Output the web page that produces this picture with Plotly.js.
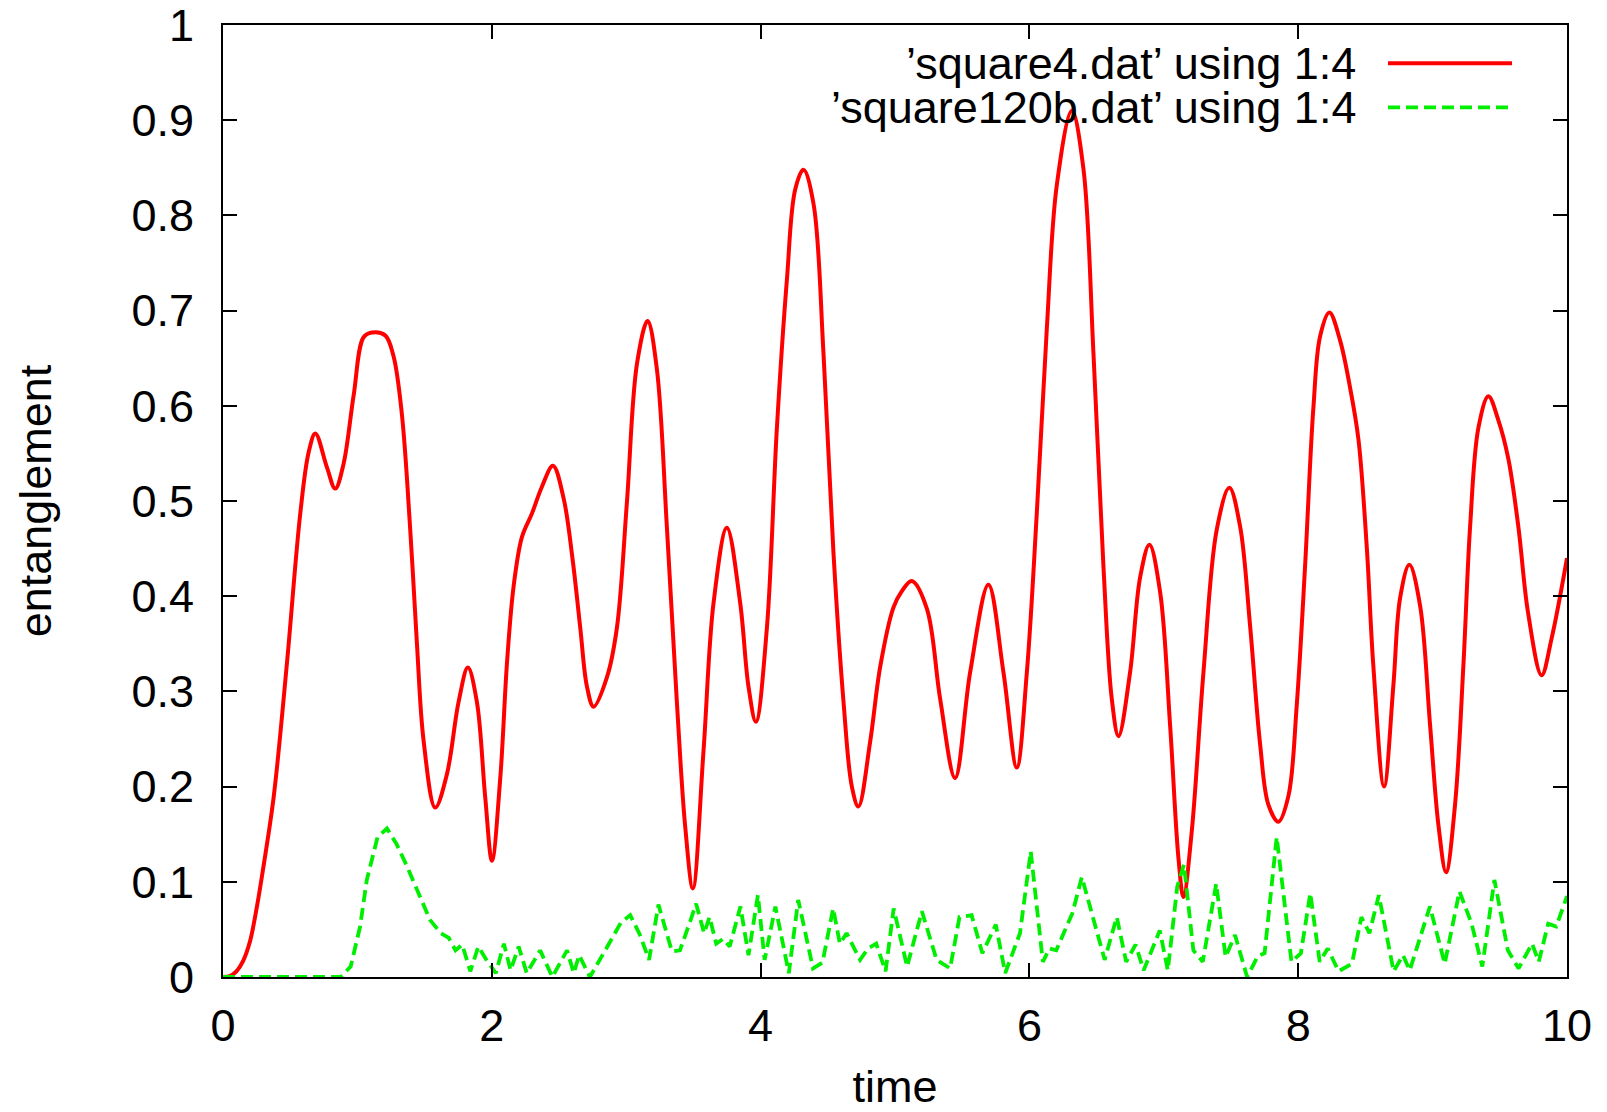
<!DOCTYPE html>
<html>
<head>
<meta charset="utf-8">
<script src="https://cdn.plot.ly/plotly-3.0.1.min.js"></script>
<style>
  html, body { margin: 0; padding: 0; background: #ffffff; }
  #chart { width: 1607px; height: 1112px; }
</style>
</head>
<body>
<div id="chart"></div>
<script>
// ---- data ----
const seriesNames = ["\u2019square4.dat\u2019 using 1:4", "\u2019square120b.dat\u2019 using 1:4"];

const redTime = [
  0, 0.05, 0.10, 0.15, 0.20, 0.25, 0.30, 0.377, 0.476, 0.575,
  0.637, 0.687, 0.774, 0.835, 0.897, 0.972, 1.046, 1.108, 1.207, 1.269,
  1.331, 1.393, 1.443, 1.492, 1.579, 1.666, 1.753, 1.822, 1.889, 1.951,
  2.001, 2.063, 2.113, 2.162, 2.224, 2.299, 2.373, 2.455, 2.534, 2.600,
  2.658, 2.708, 2.757, 2.857, 2.931, 3.005, 3.080, 3.159, 3.228, 3.303,
  3.377, 3.439, 3.496, 3.575, 3.650, 3.749, 3.848, 3.910, 3.965, 4.047,
  4.121, 4.196, 4.257, 4.319, 4.394, 4.468, 4.542, 4.617, 4.679, 4.728,
  4.815, 4.890, 4.988, 5.050, 5.125, 5.237, 5.336, 5.447, 5.559, 5.695,
  5.807, 5.906, 5.981, 6.055, 6.130, 6.204, 6.316, 6.402, 6.477, 6.551,
  6.613, 6.663, 6.749, 6.824, 6.893, 6.973, 7.047, 7.109, 7.146, 7.208,
  7.295, 7.394, 7.488, 7.568, 7.642, 7.717, 7.778, 7.852, 7.927, 7.989,
  8.051, 8.113, 8.163, 8.232, 8.311, 8.386, 8.448, 8.510, 8.559, 8.639,
  8.708, 8.758, 8.827, 8.907, 8.981, 9.043, 9.100, 9.167, 9.229, 9.279,
  9.341, 9.415, 9.489, 9.564, 9.638, 9.712, 9.811, 9.886, 10.0
];
const redValue = [
  0, 0.001, 0.006, 0.017, 0.037, 0.072, 0.115, 0.189, 0.330, 0.487,
  0.551, 0.571, 0.535, 0.513, 0.539, 0.611, 0.672, 0.677, 0.674, 0.652,
  0.591, 0.470, 0.350, 0.249, 0.178, 0.213, 0.289, 0.325, 0.289, 0.189,
  0.122, 0.209, 0.330, 0.410, 0.462, 0.487, 0.515, 0.537, 0.503, 0.440,
  0.367, 0.305, 0.284, 0.315, 0.367, 0.498, 0.644, 0.689, 0.639, 0.472,
  0.289, 0.158, 0.093, 0.237, 0.393, 0.472, 0.393, 0.305, 0.268, 0.367,
  0.576, 0.733, 0.827, 0.848, 0.812, 0.655, 0.446, 0.289, 0.200, 0.179,
  0.247, 0.326, 0.388, 0.405, 0.416, 0.387, 0.292, 0.209, 0.320, 0.412,
  0.320, 0.220, 0.320, 0.487, 0.682, 0.832, 0.910, 0.849, 0.654, 0.431,
  0.292, 0.253, 0.320, 0.420, 0.454, 0.404, 0.264, 0.125, 0.084, 0.153,
  0.320, 0.470, 0.514, 0.473, 0.369, 0.244, 0.181, 0.163, 0.190, 0.285,
  0.431, 0.598, 0.673, 0.698, 0.669, 0.619, 0.565, 0.452, 0.327, 0.200,
  0.306, 0.398, 0.433, 0.390, 0.265, 0.160, 0.110, 0.181, 0.327, 0.473,
  0.577, 0.610, 0.585, 0.544, 0.473, 0.381, 0.317, 0.356, 0.440
];

const greenTime = [
  0, 0.875, 0.95, 1.02, 1.07, 1.15, 1.22, 1.29, 1.37, 1.47,
  1.54, 1.62, 1.68, 1.73, 1.78, 1.84, 1.90, 1.96, 2.03, 2.09,
  2.14, 2.20, 2.26, 2.36, 2.45, 2.56, 2.61, 2.65, 2.73, 2.86,
  2.96, 3.03, 3.10, 3.17, 3.24, 3.34, 3.40, 3.48, 3.52, 3.58,
  3.62, 3.67, 3.72, 3.77, 3.85, 3.91, 3.98, 4.03, 4.11, 4.21,
  4.28, 4.39, 4.46, 4.54, 4.59, 4.64, 4.74, 4.80, 4.86, 4.93,
  4.99, 5.09, 5.20, 5.31, 5.41, 5.48, 5.57, 5.65, 5.75, 5.82,
  5.93, 6.01, 6.10, 6.15, 6.20, 6.32, 6.39, 6.56, 6.65, 6.72,
  6.79, 6.85, 6.97, 7.03, 7.10, 7.15, 7.22, 7.29, 7.39, 7.46,
  7.53, 7.62, 7.70, 7.75, 7.84, 7.95, 8.02, 8.09, 8.16, 8.22,
  8.30, 8.40, 8.47, 8.53, 8.60, 8.71, 8.78, 8.83, 8.98, 9.09,
  9.20, 9.29, 9.37, 9.46, 9.56, 9.64, 9.74, 9.79, 9.86, 9.92,
  10.0
];
const greenValue = [
  0, 0, 0.011, 0.053, 0.102, 0.147, 0.156, 0.140, 0.116, 0.084,
  0.060, 0.046, 0.041, 0.028, 0.034, 0.006, 0.032, 0.018, 0.004, 0.035,
  0.007, 0.032, 0.004, 0.028, 0.000, 0.028, 0.004, 0.023, 0.000, 0.032,
  0.057, 0.065, 0.045, 0.018, 0.076, 0.027, 0.028, 0.060, 0.077, 0.046,
  0.063, 0.035, 0.040, 0.032, 0.074, 0.023, 0.086, 0.018, 0.074, 0.004,
  0.081, 0.009, 0.015, 0.072, 0.035, 0.046, 0.018, 0.030, 0.035, 0.006,
  0.072, 0.011, 0.069, 0.018, 0.009, 0.063, 0.065, 0.025, 0.055, 0.004,
  0.046, 0.132, 0.016, 0.030, 0.028, 0.067, 0.105, 0.018, 0.063, 0.016,
  0.034, 0.007, 0.049, 0.007, 0.095, 0.118, 0.028, 0.016, 0.098, 0.021,
  0.044, 0.000, 0.022, 0.025, 0.147, 0.016, 0.025, 0.088, 0.016, 0.030,
  0.006, 0.014, 0.063, 0.046, 0.086, 0.006, 0.023, 0.007, 0.074, 0.014,
  0.090, 0.056, 0.011, 0.102, 0.028, 0.009, 0.035, 0.016, 0.056, 0.053,
  0.085
];

const xTickVals = [0, 2, 4, 6, 8, 10];
const xTickText = ["0", "2", "4", "6", "8", "10"];
const yTickVals = [0, 0.1, 0.2, 0.3, 0.4, 0.5, 0.6, 0.7, 0.8, 0.9, 1];
const yTickText = ["0", "0.1", "0.2", "0.3", "0.4", "0.5", "0.6", "0.7", "0.8", "0.9", "1"];

// ---- styling ----
const FONT = "'Liberation Sans', Arial, Helvetica, sans-serif";
const FS = 45;
const RED = "#ff0000";
const GREEN = "#00ee00";

const traces = [
  {
    x: redTime, y: redValue, type: "scatter", mode: "lines", name: seriesNames[0],
    line: { color: RED, width: 4, shape: "spline", smoothing: 1 },
    showlegend: false, hoverinfo: "skip"
  },
  {
    x: greenTime, y: greenValue, type: "scatter", mode: "lines", name: seriesNames[1],
    line: { color: GREEN, width: 3.8, dash: "12px,6px" },
    showlegend: false, hoverinfo: "skip"
  }
];

// gnuplot-style key: text right-aligned, sample to its right
const keyTextX = 0.8445, keyLineX0 = 0.8668, keyLineX1 = 0.9591;
const keyRows = [0.9599, 0.9135];

const layout = {
  width: 1607, height: 1112,
  paper_bgcolor: "#ffffff", plot_bgcolor: "#ffffff",
  margin: { l: 223, r: 40, t: 25, b: 135, autoexpand: false },
  font: { family: FONT, size: FS, color: "#000000" },
  showlegend: false,
  xaxis: {
    range: [0, 10], tickmode: "array", tickvals: xTickVals, ticktext: xTickText,
    ticks: "inside", ticklen: 14, tickwidth: 2, tickcolor: "#000000",
    showline: true, linecolor: "#000000", linewidth: 2, mirror: "ticks",
    showgrid: false, zeroline: false, automargin: false,
    ticklabelstandoff: 8, ticklabeloverflow: "allow",
    tickfont: { family: FONT, size: FS, color: "#000000" },
    title: { text: "time", font: { family: FONT, size: FS, color: "#000000" }, standoff: 38 }
  },
  yaxis: {
    range: [0, 1], tickmode: "array", tickvals: yTickVals, ticktext: yTickText,
    ticks: "inside", ticklen: 14, tickwidth: 2, tickcolor: "#000000",
    showline: true, linecolor: "#000000", linewidth: 2, mirror: "ticks",
    showgrid: false, zeroline: false, automargin: false,
    ticklabelstandoff: 18, ticklabeloverflow: "allow",
    tickfont: { family: FONT, size: FS, color: "#000000" },
    title: { text: "entanglement", font: { family: FONT, size: FS, color: "#000000" }, standoff: 66 }
  },
  annotations: seriesNames.map((name, i) => ({
    xref: "paper", yref: "paper", x: keyTextX, y: keyRows[i],
    xanchor: "right", yanchor: "middle", showarrow: false,
    text: name, font: { family: FONT, size: 45, color: "#000000" }
  })),
  shapes: [
    { type: "line", xref: "paper", yref: "paper", x0: keyLineX0, x1: keyLineX1, y0: keyRows[0], y1: keyRows[0],
      line: { color: RED, width: 4 } },
    { type: "line", xref: "paper", yref: "paper", x0: keyLineX0, x1: keyLineX1, y0: keyRows[1], y1: keyRows[1],
      line: { color: GREEN, width: 3.8, dash: "12px,6px" } }
  ]
};

Plotly.newPlot("chart", traces, layout, { staticPlot: true, displayModeBar: false });
</script>
</body>
</html>
